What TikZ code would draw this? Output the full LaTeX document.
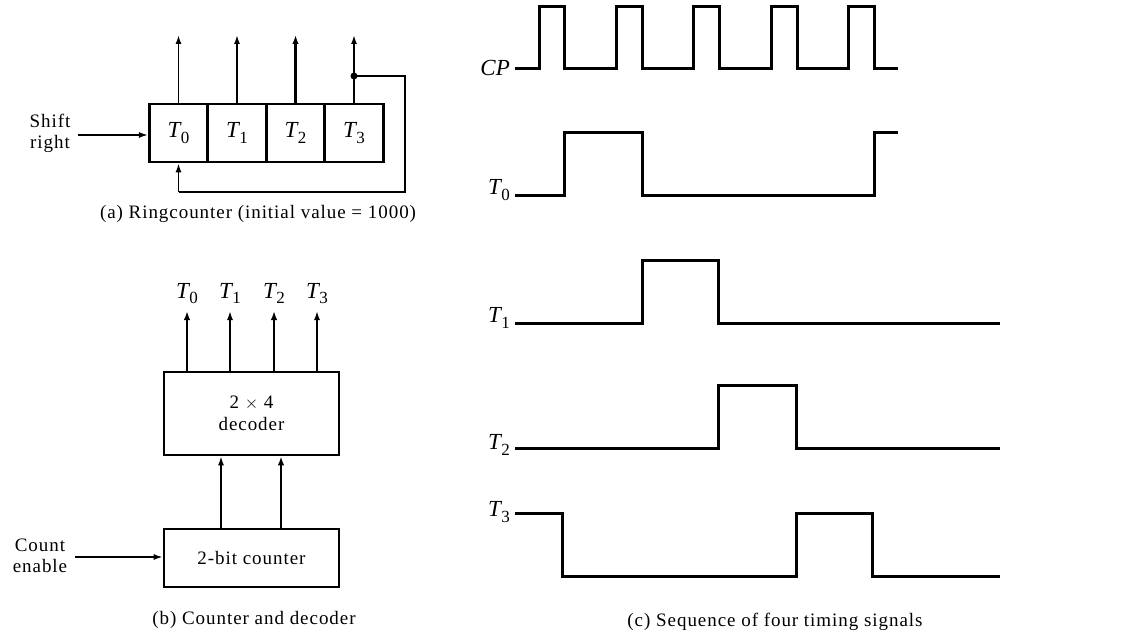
\documentclass[tikz,border=0pt]{standalone}
\usepackage{fontspec}
\setmainfont{Liberation Serif}
\newfontfamily\wideserif[LetterSpace=5]{Liberation Serif}
\usetikzlibrary{arrows.meta,positioning}
\newcommand\sgl[2]{\textit{#1}\kern-0.04em\raisebox{-0.5ex}{\fontsize{17}{17}\selectfont #2}}
\tikzset{
  cell/.style={draw,line width=2.6pt,minimum width=58.5pt,minimum height=58pt,inner sep=0pt,font=\fontsize{23}{23}\selectfont},
  blk/.style={draw,line width=2.6pt,minimum width=175pt,inner sep=0pt,align=center,font=\wideserif\fontsize{19}{22}\selectfont},
  arr/.style={line width=1.6pt,-{Latex[length=9pt,width=6pt]}},
  thickarr/.style={line width=2.4pt,-{Latex[length=9pt,width=6.5pt]}},
  wire/.style={line width=1.6pt},
  wave/.style={line width=3pt,line join=miter,line cap=butt},
  lbl/.style={font=\wideserif\fontsize{19}{21}\selectfont,align=center,inner sep=0pt},
  sig/.style={font=\fontsize{23}{23}\selectfont,inner sep=0pt,anchor=east},
  captxt/.style={font=\wideserif\fontsize{19}{19}\selectfont,inner sep=0pt}
}
\begin{document}
\begin{tikzpicture}[x=1pt,y=-1pt]
\useasboundingbox (0,0) rectangle (1131,634);
% ---------- (a) ring counter
\node[cell] (c0) at (178.5,133) {\sgl{T}{0}};
\node[cell] (c1) at (237,133) {\sgl{T}{1}};
\node[cell] (c2) at (295.5,133) {\sgl{T}{2}};
\node[cell] (c3) at (354,133) {\sgl{T}{3}};
\coordinate (o0) at (178.5,35);
\coordinate (o1) at (237,35);
\coordinate (o2) at (295.5,35);
\coordinate (o3) at (354,35);
\draw[arr] (c0.north) -- (o0);
\draw[arr] (c1.north) -- (o1);
\draw[thickarr] (c2.north) -- (o2);
\draw[arr] (c3.north) -- (o3);
\coordinate (j) at (354,76);
\fill (j) circle (3.5pt);
\coordinate (fr) at (405,76);
\coordinate (fb) at (405,192);
\coordinate (fl) at (178.5,192);
\draw[wire] (j) -- (fr) -- (fb) -- (fl);
\draw[arr] (fl) -- (c0.south);
\node[lbl] (sr) at (50,133) {Shift\\right};
\coordinate (sra) at (78,135);
\draw[arr] (sra) -- (c0.west |- sra);
\node[captxt] (capa) at (258,214) {(a) Ringcounter (initial value = 1000)};
% ---------- (b) counter and decoder
\node[blk,minimum height=83pt] (dec) at (251.5,413.5) {2 $\times$ 4\\decoder};
\node[blk,minimum height=58pt] (cnt) at (251.5,558) {2-bit counter};
\foreach \x/\i/\st in {187/0/thickarr,230/1/arr,274/2/thickarr,317/3/arr}{
  \coordinate (d\i) at (\x,372);
  \coordinate (e\i) at (\x,311);
  \draw[\st] (d\i) -- (e\i);
  \node[font=\fontsize{23}{23}\selectfont,inner sep=0pt,anchor=south] (tl\i) at (\x,304) {\sgl{T}{\i}};
}
\draw[arr] (cnt.north -| 221,0) -- (dec.south -| 221,0);
\draw[thickarr] (cnt.north -| 281,0) -- (dec.south -| 281,0);
\node[lbl] (ce) at (40,556) {Count\\enable};
\coordinate (cea) at (75,557);
\draw[arr] (cea) -- (cnt.west |- cea);
\node[captxt] (capb) at (254,620) {(b) Counter and decoder};
% ---------- (c) timing signals
\draw[wave] (515,68) -- (539,68) -- (539,7) -- (564,7) -- (564,68)
  -- (616,68) -- (616,7) -- (642,7) -- (642,68)
  -- (693,68) -- (693,7) -- (719,7) -- (719,68)
  -- (771,68) -- (771,7) -- (797,7) -- (797,68)
  -- (848,68) -- (848,7) -- (874,7) -- (874,68) -- (898,68);
\draw[wave] (515,195) -- (564,195) -- (564,132) -- (642,132) -- (642,195)
  -- (874,195) -- (874,132) -- (898,132);
\draw[wave] (515,323) -- (642,323) -- (642,260) -- (718,260) -- (718,323) -- (1000,323);
\draw[wave] (515,448) -- (718,448) -- (718,385) -- (796,385) -- (796,448) -- (1000,448);
\draw[wave] (515,513) -- (562,513) -- (562,576) -- (796,576) -- (796,513)
  -- (872,513) -- (872,576) -- (1000,576);
\node[sig] (lcp) at (510,68) {\textit{CP}};
\node[sig] (lt0) at (510,190) {\sgl{T}{0}};
\node[sig] (lt1) at (510,318) {\sgl{T}{1}};
\node[sig] (lt2) at (510,445) {\sgl{T}{2}};
\node[sig] (lt3) at (510,512) {\sgl{T}{3}};
\node[captxt] (capc) at (775,622) {(c) Sequence of four timing signals};
\end{tikzpicture}
\end{document}
